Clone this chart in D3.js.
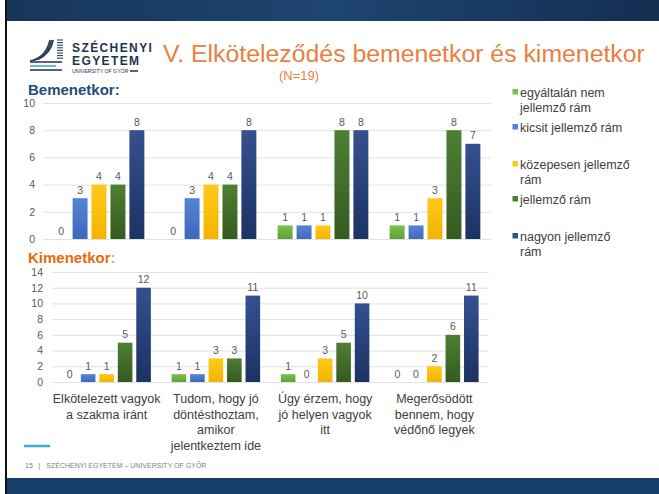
<!DOCTYPE html>
<html><head><meta charset="utf-8">
<script src="https://cdn.jsdelivr.net/npm/d3@7"></script>
<style>body{margin:0;background:#fff}svg{display:block}text{font-family:"Liberation Sans",Arial,sans-serif}</style>
</head><body>
<script>
const categories = [
  ["Elkötelezett vagyok","a szakma iránt"],
  ["Tudom, hogy jó","döntésthoztam,","amikor","jelentkeztem ide"],
  ["Úgy érzem, hogy","jó helyen vagyok","itt"],
  ["Megerősödött","bennem, hogy","védőnő legyek"]
];
const seriesNames = ["egyáltalán nem jellemző rám","kicsit jellemző rám","közepesen jellemző rám","jellemző rám","nagyon jellemző rám"];
const legendLines = [["egyáltalán nem","jellemző rám"],["kicsit jellemző rám"],["közepesen jellemző","rám"],["jellemző rám"],["nagyon jellemző","rám"]];
// values per category, per series
const bemenet = [[0,3,4,4,8],[0,3,4,4,8],[1,1,1,8,8],[1,1,3,8,7]];
const kimenet = [[0,1,1,5,12],[1,1,3,3,11],[1,0,3,5,10],[0,0,2,6,11]];
const bemenetTicks = [0,2,4,6,8,10];
const kimenetTicks = [0,2,4,6,8,10,12,14];

const colorsTop = ["#7BC04F","#5584D6","#FFC91A","#4E7F33","#34508F"];
const colorsBot = ["#5FA338","#3F69BA","#F2B400","#355A20","#1B3263"];

const W=659,H=494;
const svg=d3.select("body").append("svg").attr("width",W).attr("height",H);
const defs=svg.append("defs");
colorsTop.forEach((c,i)=>{
  const g=defs.append("linearGradient").attr("id","g"+i).attr("x1",0).attr("y1",0).attr("x2",0).attr("y2",1);
  g.append("stop").attr("offset","0%").attr("stop-color",c);
  g.append("stop").attr("offset","100%").attr("stop-color",colorsBot[i]);
});
const tb=defs.append("linearGradient").attr("id","topband").attr("x1",0).attr("x2",1);
tb.append("stop").attr("offset","0%").attr("stop-color","#17365a");
tb.append("stop").attr("offset","50%").attr("stop-color","#1e4470");
tb.append("stop").attr("offset","100%").attr("stop-color","#132f52");

// frame
svg.append("rect").attr("x",7).attr("y",0).attr("width",W-7).attr("height",21).attr("fill","url(#topband)");
svg.append("rect").attr("x",7).attr("y",478).attr("width",W-7).attr("height",16).attr("fill","#173f6b");
svg.append("rect").attr("x",5).attr("y",0).attr("width",2).attr("height",H).attr("fill","#111");

// logo
const logo=svg.append("g").attr("stroke","#2b3f5c").attr("fill","none").attr("stroke-width",1.6);
[0,4,8].forEach(d=>{
  logo.append("path").attr("d",`M${30+d},${61-d*0.2} Q${46+d*0.6},${58-d*0.6} ${50+d*0.4},${40}`);
});
[62,66,70].forEach((y,i)=>{
  logo.append("line").attr("x1",30).attr("x2",i==1?56:62).attr("y1",y).attr("y2",y).attr("stroke",i==1?"#3bb0c9":"#2b3f5c");
});
for(let y=40;y<=60;y+=2.6){logo.append("line").attr("x1",57).attr("x2",63).attr("y1",y).attr("y2",y).attr("stroke-width",1.1);}
svg.append("text").attr("x",72).attr("y",52).attr("font-size",12).attr("letter-spacing",1.4).attr("font-weight","bold").attr("fill","#1f3350").text("SZÉCHENYI");
svg.append("text").attr("x",72).attr("y",64.5).attr("font-size",12).attr("letter-spacing",1.4).attr("font-weight","bold").attr("fill","#1f3350").text("EGYETEM");
svg.append("text").attr("x",72).attr("y",72.5).attr("font-size",5.2).attr("fill","#1f3350").text("UNIVERSITY OF GYŐR");
svg.append("line").attr("x1",130).attr("x2",138).attr("y1",71).attr("y2",71).attr("stroke","#1f3350").attr("stroke-width",1.5);

// title
const title=svg.append("text").attr("x",163).attr("y",62).attr("font-size",24).attr("fill","#E8803F").text("V. Elköteleződés bemenetkor és kimenetkor");
const tl=title.node().getComputedTextLength();
title.attr("font-size",24*482/tl);
svg.append("text").attr("x",279).attr("y",80).attr("font-size",13).attr("fill","#E8803F").text("(N=19)");
svg.append("text").attr("x",28).attr("y",95).attr("font-size",15).attr("font-weight","bold").attr("fill","#1F4E79").text("Bemenetkor:");
const ki=svg.append("text").attr("x",28).attr("y",263).attr("font-size",15).attr("font-weight","bold").attr("fill","#E36C09");
ki.append("tspan").text("Kimenetkor");ki.append("tspan").attr("fill","#F4A460").text(":");

function chart(data,ticks,x0,x1,yTop,yBot,maxV,tickX){
  const g=svg.append("g");
  const xb=d3.scaleBand().domain(d3.range(data.length)).range([x0,x1]).padding(0);
  const bw=xb.bandwidth();
  const xs=d3.scaleBand().domain(d3.range(5)).range([bw*0.095,bw*0.905]).paddingInner(0.21);
  const y=d3.scaleLinear().domain([0,maxV]).range([yBot,yTop]);
  const ax=g.append("g").attr("transform",`translate(${x0},0)`).call(d3.axisLeft(y).tickValues(ticks).tickSize(-(x1-x0)).tickPadding(9));
  ax.select(".domain").remove();
  ax.selectAll(".tick line").attr("stroke","#D9D9D9").attr("stroke-width",0.8);
  ax.selectAll(".tick text").attr("fill","#595959").attr("font-size",10.5).attr("font-family","Liberation Sans, Arial, sans-serif").attr("x",tickX-x0);
  const grp=g.selectAll(".cat").data(data).join("g").attr("transform",(d,i)=>`translate(${xb(i)},0)`);
  grp.selectAll("rect").data(d=>d).join("rect")
    .attr("x",(d,i)=>xs(i)).attr("width",xs.bandwidth())
    .attr("y",d=>y(d)).attr("height",d=>yBot-y(d)).attr("fill",(d,i)=>`url(#g${i})`);
  grp.selectAll("text.v").data(d=>d).join("text").attr("class","v")
    .attr("x",(d,i)=>xs(i)+xs.bandwidth()/2).attr("y",d=>y(d)-4.5).attr("text-anchor","middle")
    .attr("font-size",10.5).attr("fill","#595959").text(d=>d);
  return xb;
}
chart(bemenet,bemenetTicks,43,491,103,239,10,35);
const xb=chart(kimenet,kimenetTicks,52,489,272,382,14,43);

// category labels
categories.forEach((lines,i)=>{
  const t=svg.append("text").attr("text-anchor","middle").attr("font-size",12.5).attr("fill","#404040");
  lines.forEach((l,j)=>t.append("tspan").attr("x",xb(i)+xb.bandwidth()/2).attr("y",403+j*15.5).text(l));
});

// legend
const legY=[92,127,164,199,236];
legendLines.forEach((lines,i)=>{
  svg.append("rect").attr("x",512.5).attr("y",legY[i]-3).attr("width",5.5).attr("height",5.5).attr("fill",colorsTop[i]);
  const t=svg.append("text").attr("font-size",12.5).attr("fill","#404040");
  lines.forEach((l,j)=>t.append("tspan").attr("x",520).attr("y",legY[i]+4.5+j*15.5).text(l));
});

// footer
svg.append("line").attr("x1",24).attr("x2",50).attr("y1",446).attr("y2",446).attr("stroke","#3BB0C9").attr("stroke-width",2.5);
svg.append("text").attr("x",25).attr("y",468).attr("font-size",7).attr("fill","#7f7f7f").attr("xml:space","preserve").style("white-space","pre").text("15   |   SZÉCHENYI EGYETEM – UNIVERSITY OF GYŐR");
</script>
</body></html>
